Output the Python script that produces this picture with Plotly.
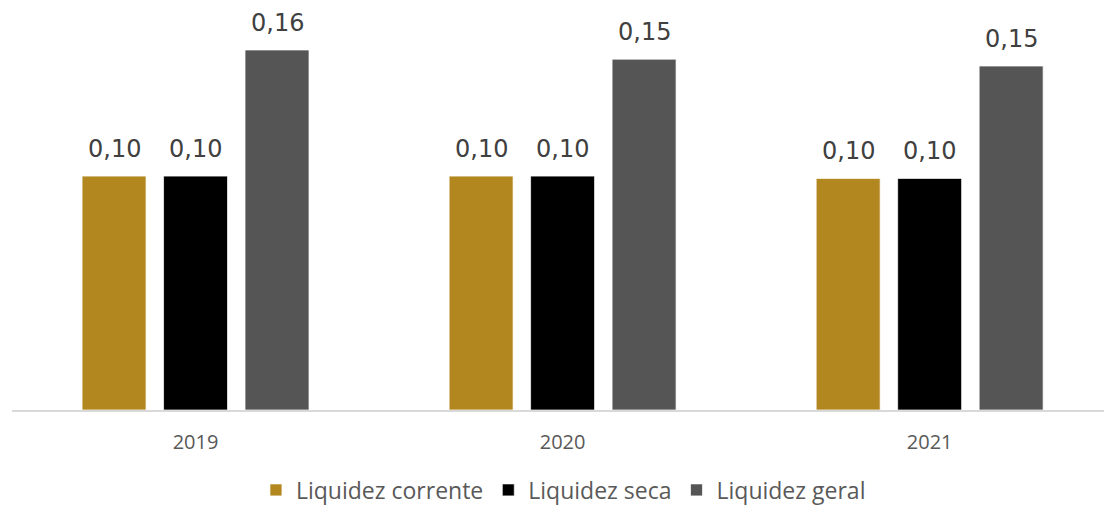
import plotly.graph_objects as go

years = ["2019", "2020", "2021"]
series_names = ["Liquidez corrente", "Liquidez seca", "Liquidez geral"]
liq_corrente = [0.102, 0.102, 0.101]
liq_seca = [0.102, 0.102, 0.101]
liq_geral = [0.157, 0.153, 0.150]
colors = ["#B3871F", "#000000", "#555555"]

series = [liq_corrente, liq_seca, liq_geral]

fig = go.Figure()
for name, vals, c in zip(series_names, series, colors):
    fig.add_trace(go.Bar(
        x=years, y=vals, name=name,
        marker=dict(color=c, line=dict(color="rgba(255,255,255,0.7)", width=1)),
    ))

annotations = []
for j, vals in enumerate(series):
    for i, v in enumerate(vals):
        annotations.append(dict(
            x=i, y=v, xref="x", yref="y",
            text=f"{v:.2f}".replace(".", ","),
            showarrow=False, yanchor="bottom",
            xshift=(j - 1) * 81.5, yshift=11,
            font=dict(family="DejaVu Sans", size=24, color="#404040"),
        ))

fig.update_layout(
    width=1104, height=507,
    margin=dict(l=12, r=0, t=0, b=97, autoexpand=False),
    paper_bgcolor="white", plot_bgcolor="white",
    barmode="group", bargap=0.334, bargroupgap=0.215,
    annotations=annotations,
    showlegend=True,
    legend=dict(
        orientation="h", x=0.505, xanchor="center", y=-0.195, yanchor="middle",
        font=dict(family="Open Sans", size=23, color="#595959"),
        traceorder="normal", borderwidth=0,
    ),
    xaxis=dict(
        type="category", range=[-0.5, 2.475],
        showline=True, linecolor="#d9d9d9", linewidth=1.5,
        ticks="", showgrid=False, zeroline=False,
        tickfont=dict(family="Open Sans", size=20, color="#595959"),
        ticklabelstandoff=13,
    ),
    yaxis=dict(
        range=[0, 0.1788], visible=False, showgrid=False, zeroline=False,
    ),
)

fig.write_html(
    "out.html",
    config={"displayModeBar": False},
    post_script="document.body.style.margin='0';document.body.style.overflow='hidden';",
)
